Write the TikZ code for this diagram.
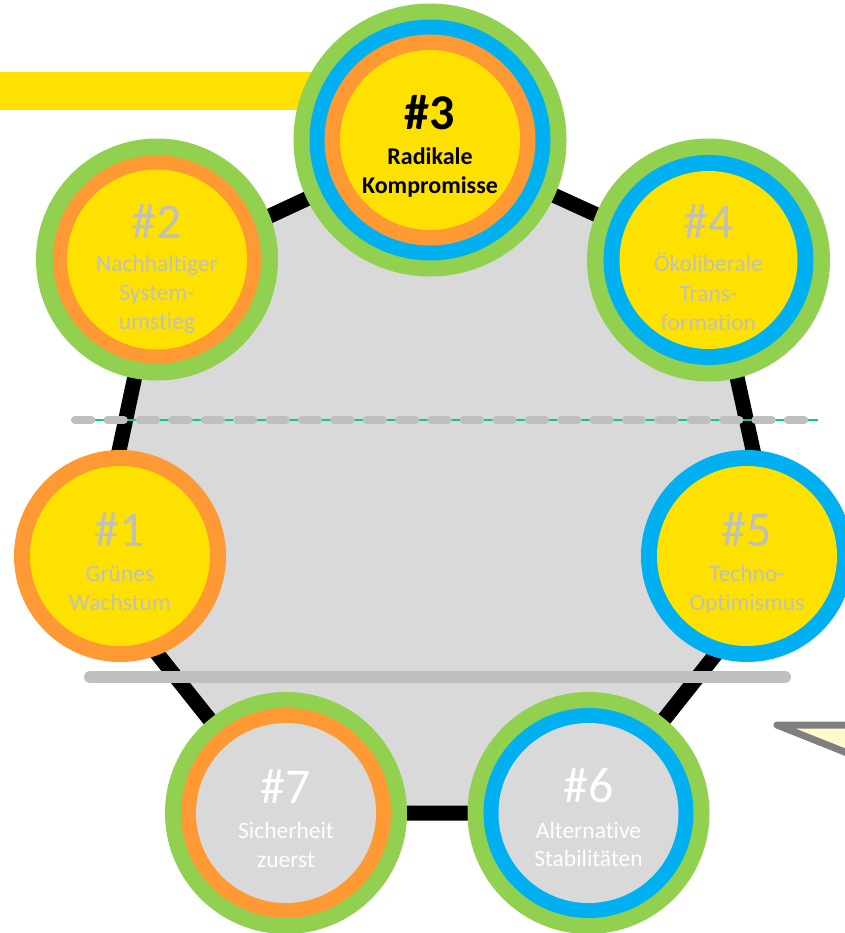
\documentclass[tikz,border=0pt]{standalone}
\usepackage{fontspec}
\setmainfont{Carlito}[Ligatures=NoCommon]
\definecolor{cgreen}{HTML}{92D050}
\definecolor{cblue}{HTML}{00B0F0}
\definecolor{corange}{HTML}{FF9933}
\definecolor{cyellow}{HTML}{FFE100}
\definecolor{cgray}{HTML}{D9D9D9}
\definecolor{ctext}{HTML}{BFBFBF}
\definecolor{cteal}{HTML}{00CC99}
\definecolor{cfill}{HTML}{FFF9CC}
\definecolor{cstroke}{HTML}{7F7F7F}
\tikzset{
  disc/.style={circle, inner sep=0pt, outer sep=0pt, draw=none},
  numtxt/.style={anchor=base, inner sep=0pt, font=\fontsize{50}{60}\selectfont},
  labtxt/.style={anchor=base, inner sep=0pt, font=\fontsize{23.5}{28}\selectfont},
  edgeline/.style={draw=black, line width=15pt, line join=round},
  dashline/.style={draw=ctext, line width=8pt, line cap=round, dash pattern=on 16.4pt off 16pt},
  solidline/.style={draw=ctext, line width=12pt, line cap=round},
  callout/.style={draw=cstroke, fill=cfill, line width=7pt, line join=round}
}
\begin{document}
\begin{tikzpicture}[x=1pt,y=-1pt]
\useasboundingbox (0,0) rectangle (844,933);
% yellow bar
\fill[cyellow] (0,72) rectangle (330,110.5);
% heptagon
\coordinate (v3) at (433,140);
\coordinate (v4) at (713,268);
\coordinate (v5) at (780,573);
\coordinate (v6) at (590,813);
\coordinate (v7) at (284,813);
\coordinate (v1) at (93,573);
\coordinate (v2) at (158,268);
\path[edgeline, fill=cgray] (v3) -- (v4) -- (v5) -- (v6) -- (v7) -- (v1) -- (v2) -- cycle;
% dashed separator
\coordinate (tl) at (71,420);
\coordinate (tr) at (818,420);
\draw[cteal, line width=1.5pt] (tl) -- (tr);
\coordinate (dl) at (75,420);
\coordinate (dr) at (805,420);
\draw[dashline] (dl) -- (dr);
% solid separator
\coordinate (sl) at (90,677);
\coordinate (sr) at (785,677);
\draw[solidline] (sl) -- (sr);
% #3
\node[disc, fill=cgreen, minimum size=273pt] (c3g) at (430,140) {};
\node[disc, fill=cblue, minimum size=241pt] (c3b) at (430,140) {};
\node[disc, fill=corange, minimum size=211pt] (c3o) at (430,140) {};
\node[disc, fill=cyellow, minimum size=180pt] (c3y) at (430,140) {};
\node[numtxt, font=\fontsize{50}{60}\selectfont\bfseries] (t3a) at (430,130) {\#3};
\node[labtxt, font=\fontsize{24}{28}\selectfont\bfseries] (t3b) at (430,165) {Radikale};
\node[labtxt, font=\fontsize{24}{28}\selectfont\bfseries] (t3c) at (430,194) {Kompromisse};
% #2
\node[disc, fill=cgreen, minimum size=242pt] (c2g) at (157,259.5) {};
\node[disc, fill=corange, minimum size=208pt] (c2o) at (157,259.5) {};
\node[disc, fill=cyellow, minimum size=180pt] (c2y) at (157,259.5) {};
\node[numtxt, text=ctext] (t2a) at (157,238) {\#2};
\node[labtxt, text=ctext] (t2b) at (157,271.7) {Nachhaltiger};
\node[labtxt, text=ctext] (t2c) at (157,300.7) {System-};
\node[labtxt, text=ctext] (t2d) at (157,329.3) {umstieg};
% #4
\node[disc, fill=cgreen, minimum size=243pt] (c4g) at (708.5,260) {};
\node[disc, fill=cblue, minimum size=210pt] (c4b) at (708.5,260) {};
\node[disc, fill=cyellow, minimum size=178pt] (c4y) at (708.5,260) {};
\node[numtxt, text=ctext] (t4a) at (708.5,238) {\#4};
\node[labtxt, text=ctext] (t4b) at (708.5,271.7) {Ökoliberale};
\node[labtxt, text=ctext] (t4c) at (708.5,301.7) {Trans-};
\node[labtxt, text=ctext] (t4d) at (708.5,330) {formation};
% #1
\node[disc, fill=corange, minimum size=212pt] (c1o) at (120,556) {};
\node[disc, fill=cyellow, minimum size=180pt] (c1y) at (120,556) {};
\node[numtxt, text=ctext] (t1a) at (120,546.7) {\#1};
\node[labtxt, text=ctext] (t1b) at (120,581.7) {Grünes};
\node[labtxt, text=ctext] (t1c) at (120,610) {Wachstum};
% #5
\node[disc, fill=cblue, minimum size=212pt] (c5b) at (747,556) {};
\node[disc, fill=cyellow, minimum size=180pt] (c5y) at (747,556) {};
\node[numtxt, text=ctext] (t5a) at (747,546.7) {\#5};
\node[labtxt, text=ctext] (t5b) at (747,581.7) {Techno-};
\node[labtxt, text=ctext] (t5c) at (747,610) {Optimismus};
% #7
\node[disc, fill=cgreen, minimum size=242pt] (c7g) at (286,813) {};
\node[disc, fill=corange, minimum size=210pt] (c7o) at (286,813) {};
\node[disc, fill=cgray, minimum size=180pt] (c7i) at (286,813) {};
\node[numtxt, text=white] (t7a) at (286,803) {\#7};
\node[labtxt, text=white] (t7b) at (286,838) {Sicherheit};
\node[labtxt, text=white] (t7c) at (286,867) {zuerst};
% #6
\node[disc, fill=cgreen, minimum size=242pt] (c6g) at (588.5,813) {};
\node[disc, fill=cblue, minimum size=210pt] (c6b) at (588.5,813) {};
\node[disc, fill=cgray, minimum size=180pt] (c6i) at (588.5,813) {};
\node[numtxt, text=white] (t6a) at (588.5,802) {\#6};
\node[labtxt, text=white] (t6b) at (588.5,838) {Alternative};
\node[labtxt, text=white] (t6c) at (588.5,866) {Stabilitäten};
% callout tip
\coordinate (k1) at (900,725);
\coordinate (k2) at (777,725);
\coordinate (k3) at (900,774);
\path[callout] (k1) -- (k2) -- (k3);
\end{tikzpicture}
\end{document}
